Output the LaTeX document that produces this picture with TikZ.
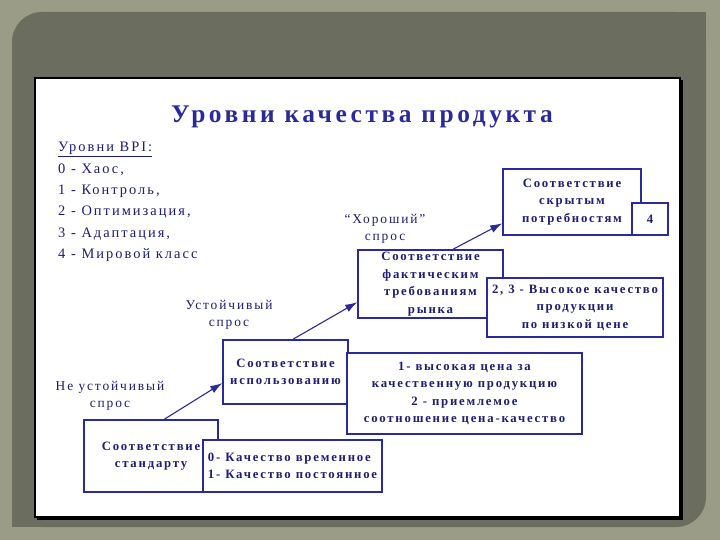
\documentclass[tikz,border=0pt]{standalone}
\usepackage{fontspec}
\setmainfont{Liberation Serif}
\newfontfamily\spacedfont[LetterSpace=14]{Liberation Serif}
\usetikzlibrary{positioning, arrows.meta}

\definecolor{framegrey}{HTML}{9A9C88}
\definecolor{framedark}{HTML}{6B6D5F}
\definecolor{inkblue}{HTML}{2A2A9C}
\definecolor{textnavy}{HTML}{1E1E72}

\begin{document}
\begin{tikzpicture}[
    x=1bp, y=-1bp,
    box/.style={
        draw=inkblue,
        line width=1.6bp,
        fill=white,
        align=center,
        inner sep=2bp,
        text=textnavy,
        font=\spacedfont\bfseries\fontsize{12.8}{17.5}\selectfont
    },
    lbl/.style={
        align=center,
        text=textnavy,
        font=\spacedfont\fontsize{13.5}{17}\selectfont
    },
    arr/.style={-{Latex[length=12bp,width=8bp]}, inkblue, line width=1.1bp}
]

% --- frame ---
\useasboundingbox (0,0) rectangle (720,540);
\fill[framegrey] (0,0) rectangle (720,540);
\fill[framedark, rounded corners=30bp] (12,12) rectangle (706,527);
\fill[framedark] (650,12) rectangle (706,60);
\fill[framedark] (12,480) rectangle (60,527);
\fill[black] (37,80) rectangle (683,520);
\draw[black, line width=1.2bp, fill=white] (35,78) rectangle (680,517);

% --- title ---
\node[text=inkblue, font=\spacedfont\bfseries\fontsize{25.5}{30}\selectfont] (title) at (362,117) {Уровни качества продукта};

% --- BPI list ---
\node[anchor=north west, align=left, inner sep=0pt, text=textnavy,
      font=\spacedfont\fontsize{14.5}{21.5}\selectfont] (bpi) at (58,142)
    {\underline{Уровни BPI:}\\0 - Хаос,\\1 - Контроль,\\2 - Оптимизация,\\3 - Адаптация,\\4 - Мировой класс};

% --- steps ---
\node[box, minimum width=134bp, minimum height=72bp] (std) at (151,456) {Соответствие\\стандарту};
\node[box, minimum width=179bp, minimum height=52bp, align=left] (temp) at (292.5,466) {0- Качество временное\\1- Качество постоянное};

\node[box, minimum width=125bp, minimum height=64bp] (use) at (285.5,372) {Соответствие\\использованию};
\node[box, minimum width=235bp, minimum height=81bp] (price) at (464.5,393.5) {1- высокая цена за\\качественную продукцию\\2 - приемлемое\\соотношение цена-качество};

\node[box, minimum width=145bp, minimum height=68bp] (fact) at (430.5,284) {Соответствие\\фактическим\\требованиям\\рынка};
\node[box, minimum width=176bp, minimum height=59bp] (high) at (575,307.5) {2, 3 - Высокое качество\\продукции\\по низкой цене};

\node[box, minimum width=138bp, minimum height=66bp] (hidden) at (572,202) {Соответствие\\скрытым\\потребностям};
\node[box, minimum width=36bp, minimum height=32bp] (four) at (650,219) {4};

% --- demand labels ---
\node[lbl] (unstable) at (110,396) {Не устойчивый\\спрос};
\node[lbl] (stable) at (229,315) {Устойчивый\\спрос};
\node[lbl] (good) at (385,229) {“Хороший”\\спрос};

% --- arrows ---
\draw[arr] (std.70) -- (use.190);
\draw[arr] (use.77) -- (fact.194);
\draw[arr] (fact.57) -- (hidden.197);

\end{tikzpicture}
\end{document}
